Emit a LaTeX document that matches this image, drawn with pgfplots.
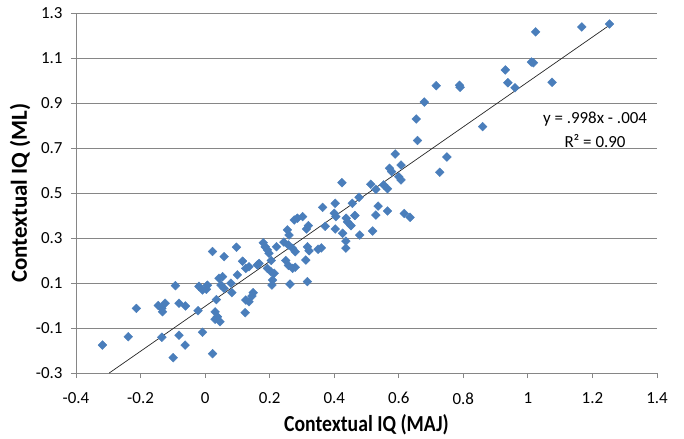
\documentclass[border=0pt]{standalone}
\usepackage{pgfplots}
\pgfplotsset{compat=1.18}
\usepackage{fontspec}
\setmainfont{Carlito}

\definecolor{ptblue}{RGB}{74,126,187}
\definecolor{axgray}{RGB}{134,134,134}

\begin{document}
\begin{tikzpicture}
\path[use as bounding box] (-76bp,-66bp) rectangle (608bp,373bp);
\begin{axis}[
    at={(0,0)}, anchor=south west,
    scale only axis,
    width=581bp, height=360bp,
    xmin=-0.4, xmax=1.4,
    ymin=-0.3, ymax=1.3,
    axis lines*=left,
    axis line style={axgray, line width=0.8bp},
    xtick={-0.4,-0.2,...,1.41},
    xticklabels={-0.4,-0.2,0,0.2,0.4,0.6,0.8,1,1.2,1.4},
    ytick={-0.3,-0.1,...,1.31},
    yticklabels={-0.3,-0.1,0.1,0.3,0.5,0.7,0.9,1.1,1.3},
    tick align=outside,
    major tick length=5bp,
    tick style={axgray, line width=0.8bp},
    ymajorgrids,
    grid style={axgray, line width=0.8bp},
    tick label style={font=\fontsize{17}{20}\selectfont, black},
    xticklabel style={yshift=-11bp},
    yticklabel style={xshift=-5bp},
    every axis x label/.style={at={(axis description cs:0.5,0)}, yshift=-52bp, anchor=center, xscale=0.86},
    every axis y label/.style={at={(axis description cs:0,0.5)}, xshift=-56bp, rotate=90, anchor=center},
    label style={font=\fontsize{23}{26}\selectfont\bfseries},
    xlabel={Contextual IQ (MAJ)},
    ylabel={Contextual IQ (ML)},
    clip=false,
]
\addplot[only marks, mark=square*, mark size=3.1bp,
         mark options={rotate=45, fill=ptblue, draw=ptblue}]
  coordinates {
  (-0.318,-0.176) (-0.238,-0.139) (-0.213,-0.013) (-0.145,0.000)
  (-0.134,-0.013) (-0.124,0.010) (-0.132,-0.028) (-0.134,-0.141)
  (-0.092,0.088) (-0.081,0.010) (-0.061,-0.002) (-0.081,-0.132)
  (-0.062,-0.176) (-0.099,-0.232) (-0.022,-0.023) (-0.008,-0.119)
  (0.023,-0.214) (-0.019,0.085) (-0.008,0.069) (0.004,0.072)
  (0.007,0.090) (0.023,0.240) (0.035,0.026) (0.031,-0.028)
  (0.038,-0.050) (0.031,-0.061) (0.046,-0.072) (0.059,0.217)
  (0.043,0.121) (0.054,0.128) (0.049,0.091) (0.059,0.076)
  (0.080,0.099) (0.083,0.057) (0.097,0.259) (0.100,0.136)
  (0.116,0.197) (0.126,0.165) (0.136,0.172) (0.126,0.024)
  (0.136,0.017) (0.145,0.042) (0.149,0.057) (0.124,-0.032)
  (0.162,0.180) (0.167,0.187) (0.180,0.279) (0.186,0.261)
  (0.193,0.247) (0.198,0.232) (0.193,0.165) (0.204,0.150)
  (0.214,0.143) (0.209,0.113) (0.207,0.091) (0.205,0.200)
  (0.221,0.261) (0.244,0.282) (0.255,0.336) (0.260,0.313)
  (0.258,0.269) (0.271,0.254) (0.279,0.239) (0.250,0.200)
  (0.258,0.178) (0.271,0.165) (0.279,0.170) (0.263,0.095)
  (0.276,0.380) (0.286,0.388) (0.302,0.395) (0.314,0.340)
  (0.320,0.355) (0.317,0.261) (0.322,0.243) (0.312,0.202)
  (0.317,0.106) (0.350,0.250) (0.360,0.256) (0.364,0.436)
  (0.372,0.352) (0.403,0.454) (0.400,0.410) (0.405,0.395)
  (0.403,0.340) (0.426,0.321) (0.437,0.388) (0.441,0.372)
  (0.452,0.355) (0.436,0.286) (0.436,0.255) (0.464,0.400)
  (0.456,0.454) (0.477,0.481) (0.479,0.313) (0.424,0.546)
  (0.513,0.539) (0.529,0.516) (0.553,0.536) (0.565,0.519)
  (0.519,0.331) (0.536,0.442) (0.529,0.402) (0.565,0.420)
  (0.617,0.409) (0.635,0.392) (0.571,0.610) (0.578,0.595)
  (0.600,0.572) (0.607,0.558) (0.589,0.673) (0.607,0.624)
  (0.654,0.829) (0.658,0.733) (0.679,0.904) (0.716,0.977)
  (0.727,0.592) (0.749,0.660) (0.788,0.979) (0.790,0.970)
  (0.860,0.795) (0.930,1.047) (0.938,0.990) (0.960,0.968)
  (1.011,1.082) (1.017,1.079) (1.024,1.216) (1.075,0.992)
  (1.167,1.238) (1.253,1.251)
  };
% linear trendline y = .998x - .004
\addplot[black!85, line width=0.7bp, no marks] coordinates {(-0.297,-0.300) (1.255,1.248)};
\node[align=center, font=\fontsize{17}{24}\selectfont] at (axis cs:1.208,0.78)
  {y = .998x - .004\\R² = 0.90};
\end{axis}
\end{tikzpicture}
\end{document}
